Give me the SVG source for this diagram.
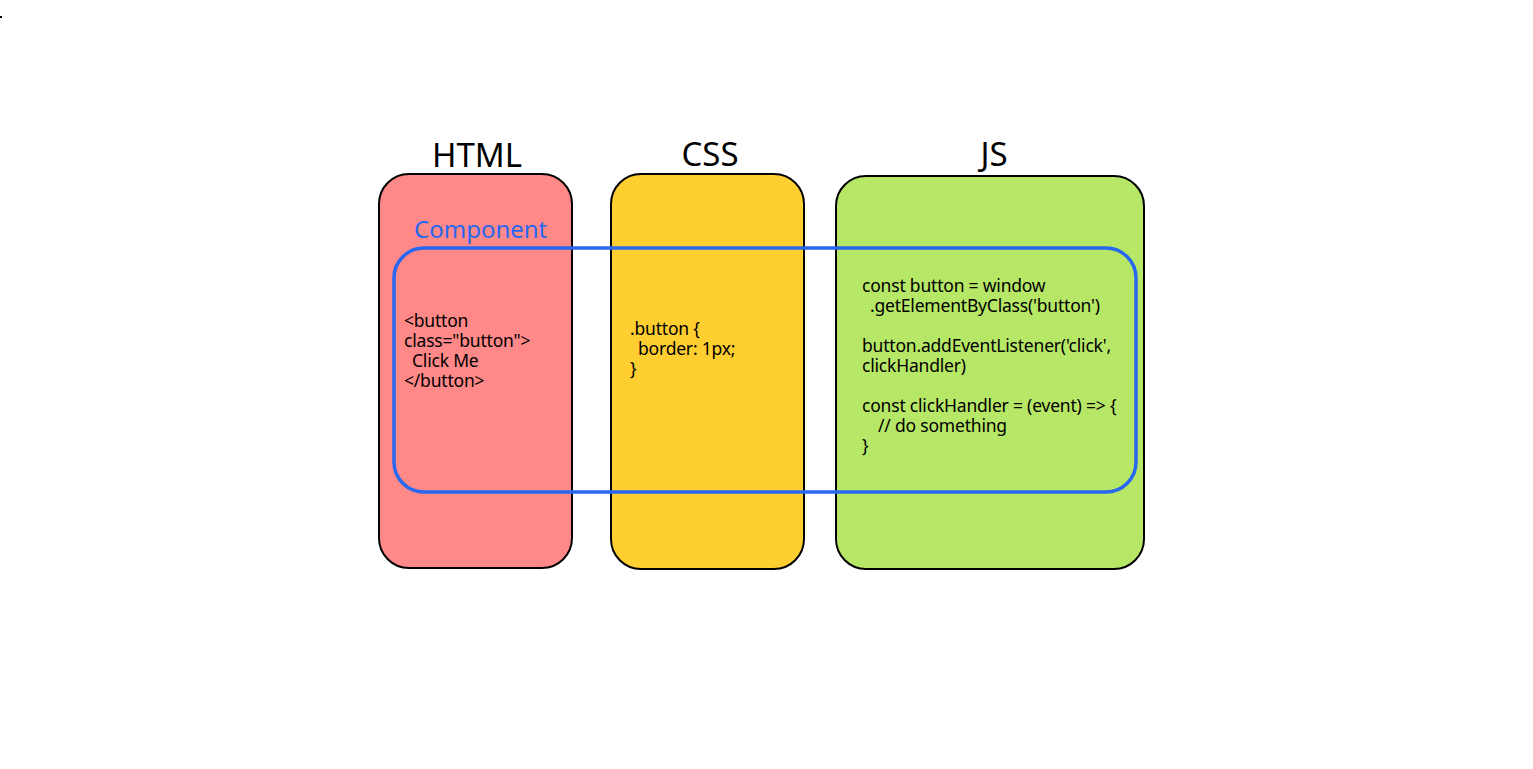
<svg xmlns="http://www.w3.org/2000/svg" width="1533" height="769" viewBox="0 0 1533 769">
  <style>
    .panel { stroke: #000; stroke-width: 2; }
    .title { font-family: "Noto Sans", "Liberation Sans", sans-serif; font-size: 33px; fill: #000; text-anchor: middle; }
    .code { font-family: "Noto Sans", "Liberation Sans", sans-serif; font-size: 17.5px; fill: #000; letter-spacing: -0.2px; }
    .comp-label { font-family: "Noto Sans", "Liberation Sans", sans-serif; font-size: 24px; fill: #2867F0; }
    .comp { fill: none; stroke: #2867F0; stroke-width: 3.5; }
  </style>
  <rect width="1533" height="769" fill="#ffffff"/>
  <rect x="0" y="16" width="2" height="2" fill="#000"/>

  <g id="html">
    <rect class="panel" x="379" y="174" width="193" height="394" rx="30" fill="#FF8888"/>
    <text class="title" x="477" y="167">HTML</text>
    <text class="code" x="404" y="327">&lt;button</text>
    <text class="code" x="404" y="347">class="button"&gt;</text>
    <text class="code" x="412" y="367">Click Me</text>
    <text class="code" x="404" y="387">&lt;/button&gt;</text>
  </g>

  <g id="css">
    <rect class="panel" x="611" y="174" width="193" height="395" rx="30" fill="#FFCE30"/>
    <text class="title" x="710" y="166">CSS</text>
    <text class="code" x="630" y="335">.button {</text>
    <text class="code" x="638" y="355">border: 1px;</text>
    <text class="code" x="630" y="375">}</text>
  </g>

  <g id="js">
    <rect class="panel" x="836" y="176" width="308" height="393" rx="30" fill="#B7E766"/>
    <text class="title" x="994" y="166">JS</text>
    <text class="code" x="862" y="292">const button = window</text>
    <text class="code" x="870" y="312">.getElementByClass('button')</text>
    <text class="code" x="862" y="352">button.addEventListener('click',</text>
    <text class="code" x="862" y="372">clickHandler)</text>
    <text class="code" x="862" y="412">const clickHandler = (event) =&gt; {</text>
    <text class="code" x="878" y="432">// do something</text>
    <text class="code" x="862" y="452">}</text>
  </g>

  <g id="component">
    <rect class="comp" x="394" y="248" width="742" height="244" rx="30"/>
    <text class="comp-label" x="414" y="238">Component</text>
  </g>
</svg>
